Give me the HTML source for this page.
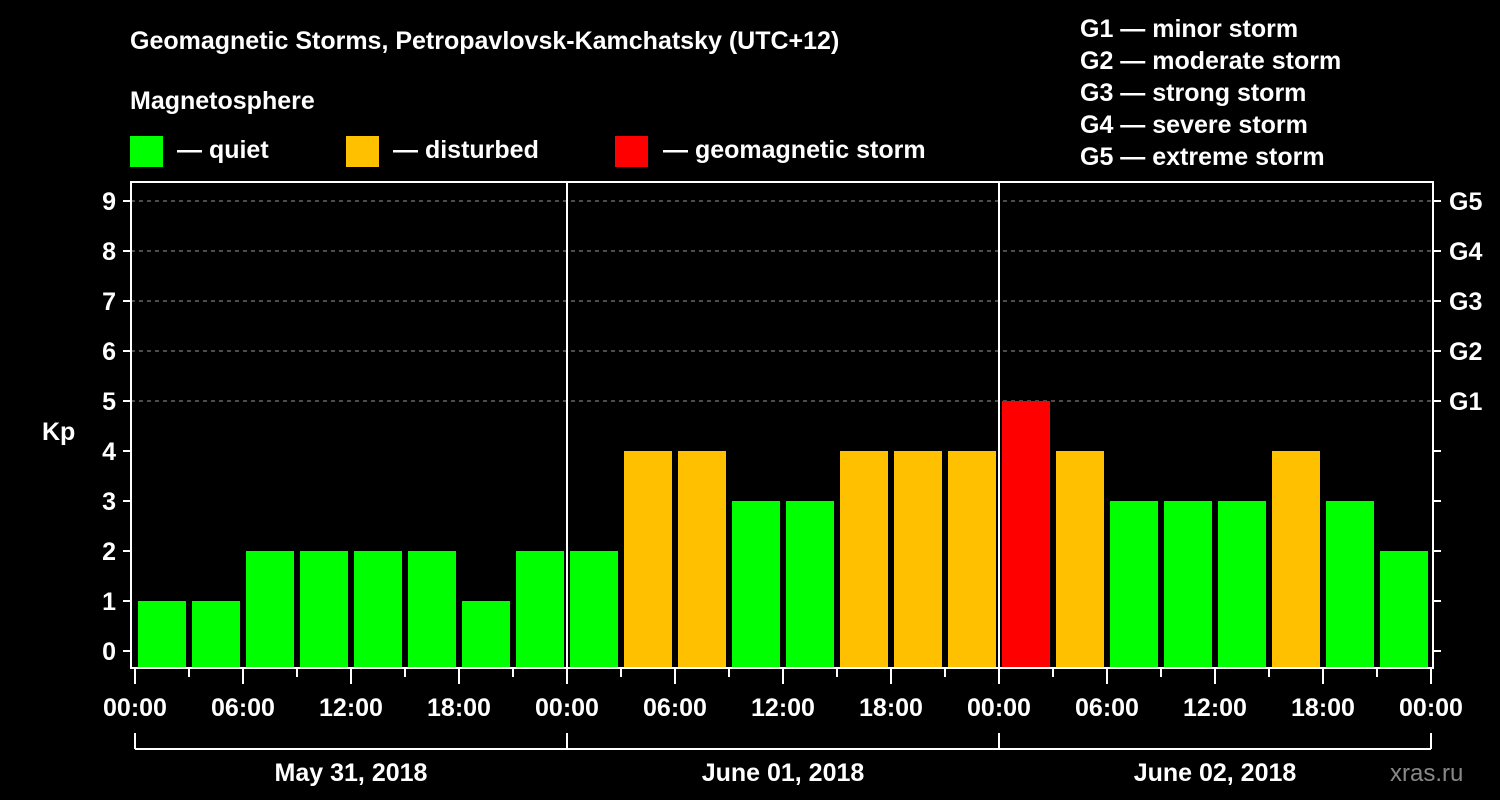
<!DOCTYPE html>
<html><head><meta charset="utf-8"><style>
body{margin:0;background:#000;}
svg{display:block;font-family:"Liberation Sans",Arial,sans-serif;font-weight:bold;}
</style></head><body>
<svg id="chart" width="1500" height="800" viewBox="0 0 1500 800">
<rect width="1500" height="800" fill="#000"/>
<g fill="#fff" font-size="25">
<text x="130" y="49">Geomagnetic Storms, Petropavlovsk-Kamchatsky (UTC+12)</text>
<text x="130" y="109">Magnetosphere</text>
<rect x="130" y="136" width="33" height="31" fill="#00ff00"/>
<text x="177" y="158">— quiet</text>
<rect x="346" y="136" width="33" height="31" fill="#ffc000"/>
<text x="393" y="158">— disturbed</text>
<rect x="615" y="136" width="33" height="31" fill="#ff0000"/>
<text x="663" y="158">— geomagnetic storm</text>
<text x="1080" y="37">G1 — minor storm</text>
<text x="1080" y="69">G2 — moderate storm</text>
<text x="1080" y="101">G3 — strong storm</text>
<text x="1080" y="133">G4 — severe storm</text>
<text x="1080" y="165">G5 — extreme storm</text>
<text x="42" y="440">Kp</text>
<text x="1390" y="781" fill="#888" font-weight="normal" font-size="24">xras.ru</text>
</g>
<g id="grid"></g>
<g id="bars"></g>
<g id="axes"></g>
</svg>
<script>
const kpValues=[1,1,2,2,2,2,1,2, 2,4,4,3,3,4,4,4, 5,4,3,3,3,4,3,2];
const dayLabels=["May 31, 2018","June 01, 2018","June 02, 2018"];
const hourLabels=["00:00","06:00","12:00","18:00"];
const gLabels=["G1","G2","G3","G4","G5"];
const NS="http://www.w3.org/2000/svg";
const x0=135, dayW=432, slotW=dayW/8;
const y0=651, unit=50, plotTop=182, plotBot=668, plotL=131, plotR=1433;
const X=i=>x0+i*slotW;
const Y=v=>y0-v*unit;
function mk(tag,attrs,parent,text){const e=document.createElementNS(NS,tag);for(const k in attrs)e.setAttribute(k,attrs[k]);if(text!==undefined)e.textContent=text;parent.appendChild(e);return e;}
const grid=document.getElementById('grid'),bars=document.getElementById('bars'),axes=document.getElementById('axes');
for(let v=5;v<=9;v++){
 const l=mk('line',{x1:plotL,x2:plotR,y1:Y(v),y2:Y(v),stroke:'#999','stroke-dasharray':'4,4','stroke-width':1},grid);
 
 
}
kpValues.forEach((v,i)=>{
 const c=v>=5?'#ff0000':(v>=4?'#ffc000':'#00ff00');
 const r=mk('rect',{x:X(i)+3,y:Y(v),width:slotW-6,height:plotBot-Y(v),fill:c},bars);
 
 
});
const frame=mk('rect',{x:plotL,y:plotTop,width:plotR-plotL,height:plotBot-plotTop,fill:'none',stroke:'#fff','stroke-width':2},axes);


for(let d=1;d<dayLabels.length;d++){
 const l=mk('line',{x1:X(d*8),x2:X(d*8),y1:plotTop,y2:plotBot,stroke:'#fff','stroke-width':2},axes);
 
 
}
for(let v=0;v<=9;v++){
 mk('line',{x1:123,x2:plotL,y1:Y(v),y2:Y(v),stroke:'#fff','stroke-width':2},axes);
 mk('line',{x1:plotR,x2:plotR+8,y1:Y(v),y2:Y(v),stroke:'#fff','stroke-width':2},axes);
 const t=mk('text',{x:116,y:Y(v)+9,fill:'#fff','font-size':25,'text-anchor':'end'},axes,String(v));
 
 
}
gLabels.forEach((g,k)=>{
 const t=mk('text',{x:1449,y:Y(5+k)+9,fill:'#fff','font-size':25},axes,g);
 
 
});
for(let i=0;i<=24;i++){
 mk('line',{x1:X(i),x2:X(i),y1:plotBot,y2:i%2?677:684,stroke:'#fff','stroke-width':2},axes);
 if(i%2===0){
  const t=mk('text',{x:X(i),y:716,fill:'#fff','font-size':25,'text-anchor':'middle'},axes,hourLabels[(i/2)%4]);
  
  
 }
}
mk('line',{x1:X(0),x2:X(24),y1:749,y2:749,stroke:'#fff','stroke-width':2},axes);
for(let d=0;d<=dayLabels.length;d++) mk('line',{x1:X(d*8),x2:X(d*8),y1:733,y2:749,stroke:'#fff','stroke-width':2},axes);
dayLabels.forEach((s,d)=>{
 const t=mk('text',{x:X(d*8+4),y:781,fill:'#fff','font-size':25,'text-anchor':'middle'},axes,s);
 
 
});
</script>
</body></html>
